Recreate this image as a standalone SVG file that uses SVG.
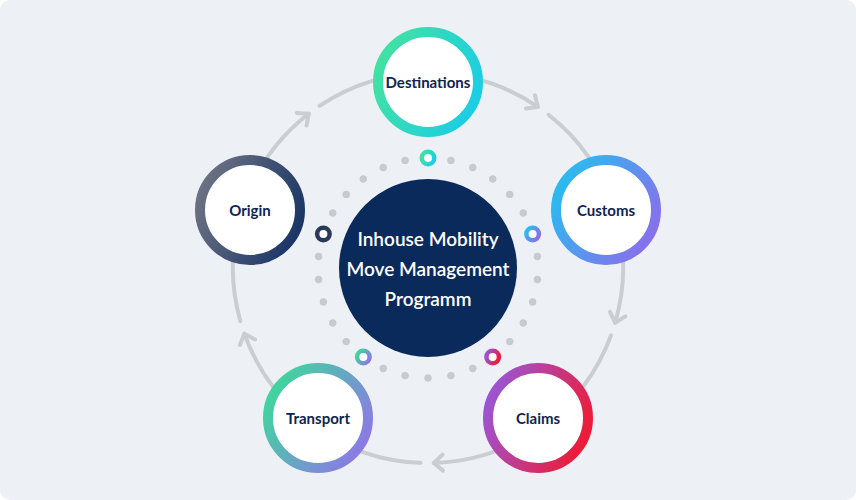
<svg xmlns="http://www.w3.org/2000/svg" width="856" height="500" viewBox="0 0 856 500">
  <defs>
    <style>
      .track { fill: none; stroke: #cacdd2; stroke-width: 4; stroke-linecap: round; }
      .ring { fill: #ffffff; stroke-width: 10; }
      .mini { fill: #ffffff; stroke-width: 4.5; }
      .dot { fill: #c7cacf; }
      .label { font-family: Lato, "Liberation Sans", sans-serif; font-weight: 700; font-size: 15px; fill: #0e2552; text-anchor: middle; }
      .center-text { font-family: Lato, "Liberation Sans", sans-serif; font-weight: 600; font-size: 19px; fill: #ffffff; text-anchor: middle; }
    </style>
    <linearGradient id="gDest" x1="0" y1="0.3" x2="1" y2="0.7">
      <stop offset="0" stop-color="#42e1a2"/>
      <stop offset="1" stop-color="#1bcde6"/>
    </linearGradient>
    <linearGradient id="gCust" x1="0" y1="0.2" x2="1" y2="0.8">
      <stop offset="0" stop-color="#27bef0"/>
      <stop offset="1" stop-color="#8c6cec"/>
    </linearGradient>
    <linearGradient id="gClaim" x1="0" y1="0.3" x2="1" y2="0.7">
      <stop offset="0" stop-color="#9b55d4"/>
      <stop offset="1" stop-color="#ef1a34"/>
    </linearGradient>
    <linearGradient id="gTrans" x1="0" y1="0.2" x2="1" y2="0.8">
      <stop offset="0" stop-color="#3ed89c"/>
      <stop offset="1" stop-color="#8f76e8"/>
    </linearGradient>
    <linearGradient id="gOrig" x1="0" y1="0.3" x2="1" y2="0.7">
      <stop offset="0" stop-color="#6b7182"/>
      <stop offset="1" stop-color="#1a3566"/>
    </linearGradient>
    <marker id="chev" markerUnits="userSpaceOnUse" viewBox="-14 -14 28 28" markerWidth="28" markerHeight="28" refX="0" refY="0" orient="auto">
      <path d="M-9,-8 L0,0 L-9,8" fill="none" stroke="#cacdd2" stroke-width="4" stroke-linecap="round" stroke-linejoin="round"/>
    </marker>
  </defs>

  <rect x="0" y="0" width="856" height="500" rx="10" ry="10" fill="#edf0f5"/>

  <g id="connectors">
    <path class="track" marker-end="url(#chev)" d="M319.52,105.96 A195,195 0 0 1 428,73 M242.54,207.74 A195,195 0 0 1 308.75,113.71"/>
    <path class="track" marker-end="url(#chev)" d="M548.59,114.76 A195,195 0 0 1 613.46,207.74 M428,73 A195,195 0 0 1 537.89,106.91"/>
    <path class="track" marker-end="url(#chev)" d="M611.01,335.33 A195,195 0 0 1 542.62,425.76 M613.46,207.74 A195,195 0 0 1 615.16,322.73"/>
    <path class="track" marker-end="url(#chev)" d="M420.51,462.86 A195,195 0 0 1 313.38,425.76 M542.62,425.76 A195,195 0 0 1 433.79,462.91"/>
    <path class="track" marker-end="url(#chev)" d="M240.37,321.10 A195,195 0 0 1 242.54,207.74 M313.38,425.76 A195,195 0 0 1 244.41,333.73"/>
  </g>

  <g id="dot-ring">
    <circle class="dot" cx="450.87" cy="160.40" r="3.7"/>
    <circle class="dot" cx="472.74" cy="167.51" r="3.7"/>
    <circle class="dot" cx="492.66" cy="179.01" r="3.7"/>
    <circle class="dot" cx="509.75" cy="194.40" r="3.7"/>
    <circle class="dot" cx="523.26" cy="213.00" r="3.7"/>
    <circle class="dot" cx="537.40" cy="256.50" r="3.7"/>
    <circle class="dot" cx="537.40" cy="279.50" r="3.7"/>
    <circle class="dot" cx="532.62" cy="301.99" r="3.7"/>
    <circle class="dot" cx="523.26" cy="323.00" r="3.7"/>
    <circle class="dot" cx="509.75" cy="341.60" r="3.7"/>
    <circle class="dot" cx="472.74" cy="368.49" r="3.7"/>
    <circle class="dot" cx="450.87" cy="375.60" r="3.7"/>
    <circle class="dot" cx="428" cy="378" r="3.7"/>
    <circle class="dot" cx="405.13" cy="375.60" r="3.7"/>
    <circle class="dot" cx="383.26" cy="368.49" r="3.7"/>
    <circle class="dot" cx="346.25" cy="341.60" r="3.7"/>
    <circle class="dot" cx="332.74" cy="323.00" r="3.7"/>
    <circle class="dot" cx="323.38" cy="301.99" r="3.7"/>
    <circle class="dot" cx="318.60" cy="279.50" r="3.7"/>
    <circle class="dot" cx="318.60" cy="256.50" r="3.7"/>
    <circle class="dot" cx="332.74" cy="213.00" r="3.7"/>
    <circle class="dot" cx="346.25" cy="194.40" r="3.7"/>
    <circle class="dot" cx="363.34" cy="179.01" r="3.7"/>
    <circle class="dot" cx="383.26" cy="167.51" r="3.7"/>
    <circle class="dot" cx="405.13" cy="160.40" r="3.7"/>
    <circle class="mini" cx="428" cy="158" r="6.25" stroke="url(#gDest)"/>
    <circle class="mini" cx="532.62" cy="234.01" r="6.25" stroke="url(#gCust)"/>
    <circle class="mini" cx="492.66" cy="356.99" r="6.25" stroke="url(#gClaim)"/>
    <circle class="mini" cx="363.34" cy="356.99" r="6.25" stroke="url(#gTrans)"/>
    <circle class="mini" cx="323.38" cy="234.01" r="6.25" stroke="#2a3a58"/>
  </g>

  <g id="center">
    <circle cx="428" cy="268" r="89" fill="#0b2a5c"/>
    <text class="center-text" x="428" y="246">Inhouse Mobility</text>
    <text class="center-text" x="428" y="276">Move Management</text>
    <text class="center-text" x="428" y="306">Programm</text>
  </g>

  <g id="destinations">
    <circle class="ring" cx="428" cy="82" r="50" stroke="url(#gDest)"/>
    <text class="label" x="428" y="87.5">Destinations</text>
  </g>
  <g id="customs">
    <circle class="ring" cx="606" cy="210" r="50" stroke="url(#gCust)"/>
    <text class="label" x="606" y="215.5">Customs</text>
  </g>
  <g id="claims">
    <circle class="ring" cx="538" cy="418" r="50" stroke="url(#gClaim)"/>
    <text class="label" x="538" y="423.5">Claims</text>
  </g>
  <g id="transport">
    <circle class="ring" cx="318" cy="418" r="50" stroke="url(#gTrans)"/>
    <text class="label" x="318" y="423.5">Transport</text>
  </g>
  <g id="origin">
    <circle class="ring" cx="250" cy="210" r="50" stroke="url(#gOrig)"/>
    <text class="label" x="250" y="215.5">Origin</text>
  </g>
</svg>
